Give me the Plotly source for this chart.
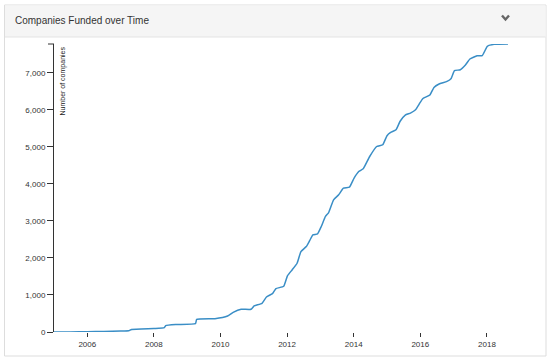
import plotly.graph_objects as go

# ---- data ----
dates = [
    "2005-01-01", "2005-07-01", "2006-01-01", "2006-07-01", "2007-01-01",
    "2007-04-01", "2007-05-01", "2008-01-01", "2008-04-25", "2008-05-10",
    "2008-09-01", "2009-04-01", "2009-04-15", "2009-11-01", "2010-03-20",
    "2010-05-20", "2010-08-15", "2010-12-01", "2011-01-05", "2011-04-01",
    "2011-05-20", "2011-07-25", "2011-09-01", "2011-11-25", "2012-01-05",
    "2012-02-25", "2012-04-20", "2012-06-01", "2012-07-30", "2012-09-05",
    "2012-10-10", "2012-11-30", "2013-01-10", "2013-02-25", "2013-04-01",
    "2013-05-25", "2013-07-20", "2013-09-10", "2013-11-15", "2014-01-05",
    "2014-02-25", "2014-04-15", "2014-06-25", "2014-09-10", "2014-11-15",
    "2015-01-01", "2015-02-10", "2015-04-10", "2015-05-25", "2015-07-20",
    "2015-09-15", "2015-11-10", "2015-12-20", "2016-01-30", "2016-04-15",
    "2016-05-30", "2016-07-25", "2016-10-20", "2016-12-05", "2017-01-10",
    "2017-03-15", "2017-05-10", "2017-06-28", "2017-09-15", "2017-11-10",
    "2018-01-05", "2018-03-20", "2018-08-20",
]
companies = [
    0, 3, 8, 15, 25,
    32, 70, 95, 116, 170,
    200, 224, 340, 360, 432,
    530, 613, 613, 703, 775,
    946, 1036, 1171, 1234, 1514,
    1676, 1856, 2171, 2306, 2468,
    2622, 2649, 2847, 3120, 3225,
    3568, 3703, 3883, 3910, 4154,
    4332, 4405, 4738, 5008, 5054,
    5300, 5387, 5460, 5690, 5857,
    5911, 6000, 6154, 6305, 6397,
    6603, 6695, 6765, 6846, 7054,
    7081, 7208, 7370, 7459, 7459,
    7711, 7765, 7775,
]
y_ticks = [0, 1000, 2000, 3000, 4000, 5000, 6000, 7000]
title_text = "Companies Funded over Time"
y_title = "Number of companies"

# ---- layout geometry (pixels) ----
W, H = 550, 362
L, R, T, B = 54, 508, 44, 332


def px(x):
    return (x - L) / (R - L)


def py(y):
    return (B - y) / (B - T)


FONT = "Liberation Sans, Arial, Helvetica, sans-serif"
AXIS = "#333333"

fig = go.Figure()
fig.add_trace(go.Scatter(
    x=dates, y=companies, mode="lines",
    line=dict(color="#3a8ec6", width=1.5, shape="spline", smoothing=0.4),
    hoverinfo="x+y", showlegend=False,
))

shapes = [
    # panel body
    dict(type="rect", xref="paper", yref="paper", x0=px(4.5), x1=px(546), y0=py(356), y1=py(5),
         fillcolor="white", line=dict(color="#dddddd", width=1), layer="below"),
    # header
    dict(type="rect", xref="paper", yref="paper", x0=px(5), x1=px(545.5), y0=py(37), y1=py(5.5),
         fillcolor="#f5f5f5", line=dict(width=0), layer="below"),
    dict(type="line", xref="paper", yref="paper", x0=px(5), x1=px(545.5), y0=py(37), y1=py(37),
         line=dict(color="#e3e3e3", width=1), layer="below"),
    # chevron
    dict(type="path", xref="paper", yref="paper",
         path=f"M {px(502)},{py(15.5)} L {px(505.5)},{py(19.5)} L {px(509)},{py(15.5)}",
         line=dict(color="#666666", width=2.4)),
    # y axis outer top tick
    dict(type="line", xref="paper", yref="paper", x0=px(48), x1=px(54), y0=1, y1=1,
         line=dict(color=AXIS, width=1)),
]

fig.update_layout(
    width=W, height=H,
    margin=dict(l=L, r=W - R, t=T, b=H - B, pad=0),
    paper_bgcolor="white", plot_bgcolor="rgba(0,0,0,0)",
    font=dict(family=FONT, color=AXIS, size=8),
    shapes=shapes,
    annotations=[
        dict(text=title_text, xref="paper", yref="paper", x=px(13), y=py(21),
             xanchor="left", yanchor="middle", showarrow=False,
             font=dict(family=FONT, size=10, color="#333333")),
        dict(text=y_title, xref="paper", yref="paper", x=px(62), y=py(45),
             xanchor="center", yanchor="top", textangle=-90, showarrow=False,
             font=dict(family=FONT, size=7, color="#222222")),
    ],
    xaxis=dict(
        type="date", range=[dates[0], dates[-1]],
        showgrid=False, zeroline=False, showline=False,
        ticks="outside", ticklen=4, tickcolor=AXIS, tickwidth=1,
        tick0="2006-01-01", dtick="M24", tickformat="%Y",
        tickfont=dict(size=8, color=AXIS),
    ),
    yaxis=dict(
        range=[0, max(companies)],
        showgrid=False, zeroline=False, showline=True, linecolor=AXIS, linewidth=1,
        ticks="outside", ticklen=6, tickcolor=AXIS, tickwidth=1,
        tickvals=y_ticks, tickformat=",",
        tickfont=dict(size=8, color=AXIS),
    ),
)

fig.write_html(
    "out.html",
    config={"displayModeBar": False},
    post_script="document.body.style.margin='0';document.body.style.overflow='hidden';",
)
